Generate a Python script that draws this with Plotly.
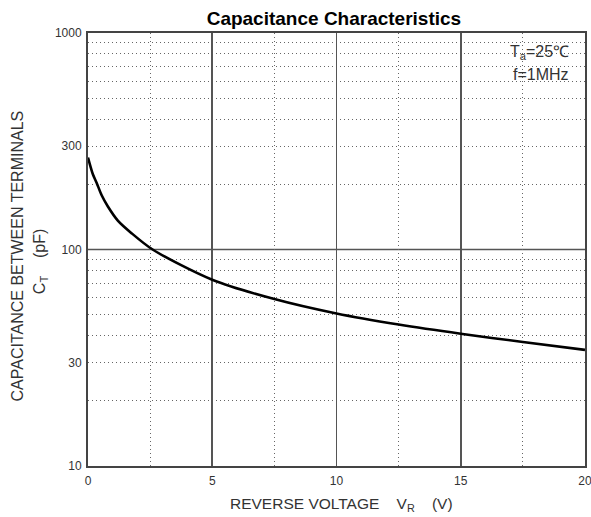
import plotly.graph_objects as go

# Data
voltage = [0, 0.2, 0.35, 0.55, 0.8, 1.2, 1.75, 2.6, 5, 7.5, 10, 12.5, 15, 17.5, 20]
capacitance = [266, 222, 203, 178, 158, 136, 119, 100, 72.5, 59, 50.6, 45, 40.8, 37.4, 34.4]

y_tick_vals = [10, 30, 100, 300, 1000]
y_minor_vals = [20, 30, 40, 50, 60, 70, 80, 90, 200, 300, 400, 500, 600, 700, 800, 900]
x_tick_vals = [0, 5, 10, 15, 20]
x_minor_vals = [2.5, 7.5, 12.5, 17.5]

FONT = "Arial, Liberation Sans, sans-serif"
GRID = "#555555"
DOT = "#666666"
TXT = "#333333"

fig = go.Figure()
fig.add_trace(go.Scatter(
    x=voltage, y=capacitance, mode="lines",
    line=dict(color="black", width=2.6, shape="spline", smoothing=0.8),
    hoverinfo="skip", showlegend=False,
))

fig.update_layout(
    width=591, height=517,
    margin=dict(l=88, r=6, t=33, b=51, autoexpand=False),
    paper_bgcolor="white", plot_bgcolor="white",
    font=dict(family=FONT, color=TXT, size=12),
    title=dict(text="<b>Capacitance Characteristics</b>", x=0.565, xanchor="center",
               y=0.965, yanchor="middle", font=dict(size=19, color="black", family=FONT)),
    showlegend=False,
    hovermode=False,
)

fig.update_xaxes(
    range=[0, 20], tickvals=x_tick_vals, ticks="", showgrid=True, automargin=False,
    ticklabeloverflow="allow",
    gridcolor=GRID, gridwidth=1.6, zeroline=False,
    showline=True, linecolor="#444444", linewidth=2, mirror=True,
    tickfont=dict(size=12, color=TXT), ticklabelstandoff=3,
    minor=dict(tickvals=x_minor_vals, showgrid=True, gridcolor=DOT, gridwidth=1,
               griddash="1px,3px", ticks=""),
)
fig.update_yaxes(
    type="log", range=[1, 3], tickvals=y_tick_vals, ticktext=[str(v) for v in y_tick_vals],
    ticks="", showgrid=False, zeroline=False, automargin=False,
    ticklabeloverflow="allow",
    showline=True, linecolor="#444444", linewidth=2, mirror=True,
    tickfont=dict(size=12, color=TXT), ticklabelstandoff=2,
    minor=dict(tickvals=y_minor_vals, showgrid=True, gridcolor=DOT, gridwidth=1,
               griddash="1px,3px", ticks=""),
)

# solid decade line at 100 pF
fig.add_shape(type="line", xref="paper", yref="y", x0=0, x1=1, y0=100, y1=100,
              line=dict(color=GRID, width=1.6), layer="below")

fig.add_annotation(text="REVERSE VOLTAGE &nbsp;&nbsp; V<sub>R</sub> &nbsp;&nbsp; (V)",
                   xref="paper", yref="paper", x=0.511, y=-0.088, xanchor="center",
                   yanchor="middle", showarrow=False, font=dict(size=15.5, color=TXT))
fig.add_annotation(text="CAPACITANCE BETWEEN TERMINALS",
                   xref="paper", yref="paper", x=-0.141, y=0.486, textangle=-90,
                   xanchor="center", yanchor="middle", showarrow=False,
                   font=dict(size=16, color=TXT))
fig.add_annotation(text="C<sub>T</sub> &nbsp;&nbsp; (pF)",
                   xref="paper", yref="paper", x=-0.0966, y=0.473, textangle=-90,
                   xanchor="center", yanchor="middle", showarrow=False,
                   font=dict(size=16, color=TXT))
fig.add_annotation(text="T<sub>a</sub>=25℃",
                   xref="paper", yref="paper", x=0.972, y=0.954, xanchor="right",
                   yanchor="middle", showarrow=False, font=dict(size=16, color=TXT))
fig.add_annotation(text="f=1MHz",
                   xref="paper", yref="paper", x=0.972, y=0.905, xanchor="right",
                   yanchor="middle", showarrow=False, font=dict(size=16, color=TXT))

fig.write_html("out.html", config={"displayModeBar": False, "staticPlot": True},
               post_script="document.body.style.margin='0';document.body.style.overflow='hidden';")
